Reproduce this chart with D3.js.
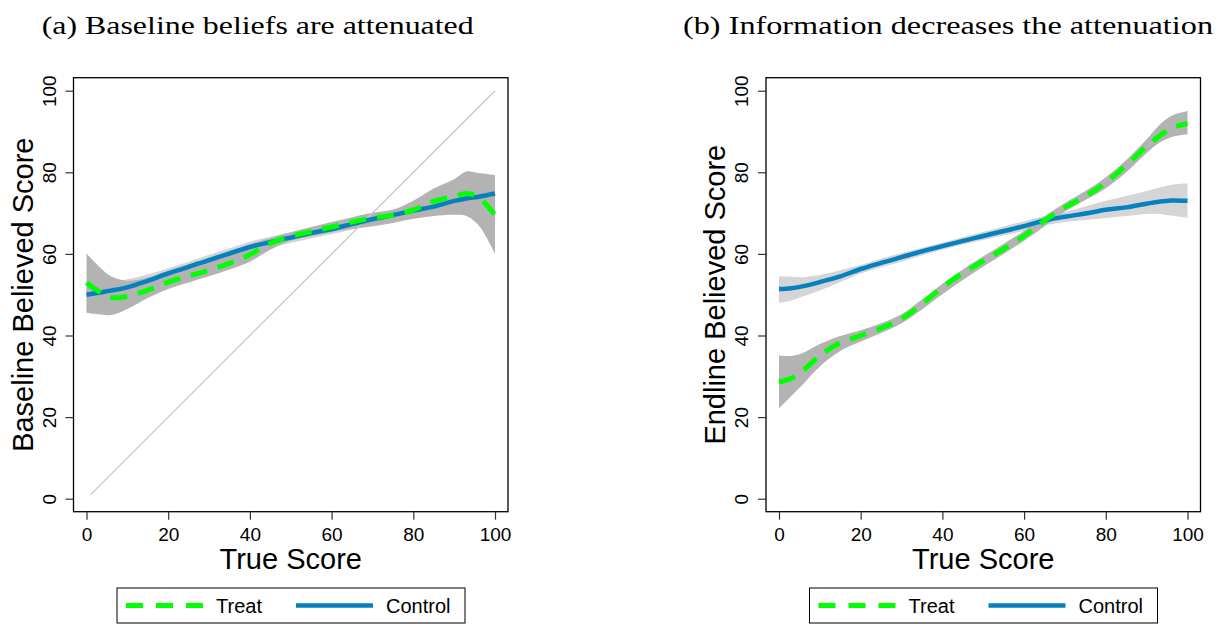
<!DOCTYPE html>
<html lang="en">
<head>
<meta charset="utf-8">
<script src="https://d3js.org/d3.v7.min.js"></script>
<style>
  body { margin: 0; background: #fff; }
  svg { display: block; }
</style>
</head>
<body>
<div id="chart"></div>
<script>
// shared x grid (true score) for every series
var trueScore = [0, 3, 6, 10, 15, 20, 25, 30, 35, 40, 45, 50, 55, 60, 65, 70, 75, 80, 85, 90, 93, 96, 100];
var ticks = [0, 20, 40, 60, 80, 100];

// (a) baseline beliefs
var baseTreat   = [52.9, 50.8, 49.3, 49.6, 51.1, 53.1, 54.6, 56.0, 57.7, 59.8, 62.6, 64.3, 65.5, 66.6, 67.8, 68.8, 69.5, 70.8, 72.9, 74.1, 74.8, 73.9, 69.5];
var baseTreatHi = [60.1, 57.0, 54.5, 53.4, 54.2, 55.9, 57.4, 59.0, 60.6, 62.3, 63.9, 65.3, 66.6, 67.8, 69.0, 70.1, 70.8, 73.0, 76.0, 78.3, 80.2, 79.8, 79.3];
var baseTreatLo = [45.5, 45.2, 45.0, 46.5, 49.2, 51.4, 53.0, 54.5, 56.2, 58.1, 61.0, 63.2, 64.3, 65.3, 66.1, 66.8, 67.6, 68.6, 69.3, 69.6, 69.3, 67.0, 60.0];
var baseCtrl    = [50.0, 50.5, 51.0, 51.8, 53.4, 55.2, 56.8, 58.5, 60.1, 61.7, 62.9, 64.0, 65.1, 66.1, 67.3, 68.5, 69.5, 70.6, 71.6, 73.0, 73.6, 74.0, 74.8];
var baseCtrlHi  = [53.5, 53.4, 53.4, 53.8, 55.0, 56.5, 58.1, 59.8, 61.4, 63.0, 64.2, 65.3, 66.4, 67.4, 68.6, 69.8, 70.8, 71.9, 73.2, 75.0, 76.0, 76.9, 78.2];
var baseCtrlLo  = [46.5, 47.4, 48.4, 49.8, 51.8, 53.9, 55.5, 57.2, 58.8, 60.4, 61.6, 62.7, 63.8, 64.8, 66.0, 67.2, 68.2, 69.3, 70.0, 71.0, 71.0, 70.9, 71.2];

// (b) endline beliefs
var endTreat    = [28.6, 29.5, 31.5, 35.1, 38.2, 40.0, 41.8, 44.1, 47.7, 51.8, 55.3, 58.3, 61.2, 64.4, 68.2, 71.4, 74.1, 77.5, 81.7, 86.4, 88.8, 90.8, 92.0];
var endTreatHi  = [35.1, 35.0, 35.8, 37.9, 39.9, 41.3, 43.0, 45.2, 48.8, 52.7, 56.2, 59.4, 62.5, 65.7, 69.2, 72.5, 75.4, 78.8, 83.0, 88.1, 91.5, 93.8, 95.0];
var endTreatLo  = [22.2, 25.2, 28.2, 32.4, 36.2, 38.5, 40.6, 43.0, 46.4, 50.1, 53.6, 56.9, 60.0, 63.2, 66.8, 70.4, 73.2, 76.1, 80.0, 84.7, 87.2, 88.6, 89.3];
var endCtrl     = [51.4, 51.6, 52.1, 53.1, 54.5, 56.3, 57.8, 59.2, 60.6, 61.9, 63.2, 64.4, 65.6, 66.8, 68.2, 69.1, 69.9, 70.8, 71.4, 72.3, 72.8, 73.1, 73.0];
var endCtrlHi   = [54.5, 54.4, 54.3, 54.8, 56.0, 57.3, 58.8, 60.2, 61.5, 62.8, 64.1, 65.4, 66.7, 68.0, 69.3, 70.3, 71.6, 73.0, 74.2, 75.4, 76.2, 76.9, 77.3];
var endCtrlLo   = [48.0, 48.6, 49.6, 51.0, 53.1, 55.2, 56.7, 58.1, 59.6, 61.0, 62.3, 63.4, 64.5, 65.7, 67.0, 67.8, 68.3, 68.8, 69.3, 69.8, 69.8, 69.4, 68.8];

// 45 degree reference line (panel a only)
var diagonal = [1, 100];

var width = 1225;
var height = 627;

var green = "#00ff00";
var blue = "#0581bd";
var darkBand = "#b3b3b3";
var lightBand = "#d5d5d5";

var svg = d3.select("#chart")
            .append("svg")
            .attr("width", width)
            .attr("height", height);

function rows(hi, lo, mid) {
  return trueScore.map(function(x, i) {
    return {x: x, hi: hi[i], lo: lo[i], y: mid[i]};
  });
}

var panels = [
  {
    title: "(a) Baseline beliefs are attenuated",
    titleX: 41.7, titleLen: 432,
    yTitle: "Baseline Believed Score",
    frameLeft: 73.5,
    treat: rows(baseTreatHi, baseTreatLo, baseTreat),
    ctrl: rows(baseCtrlHi, baseCtrlLo, baseCtrl),
    diag: true
  },
  {
    title: "(b) Information decreases the attenuation",
    titleX: 683, titleLen: 530,
    yTitle: "Endline Believed Score",
    frameLeft: 766,
    treat: rows(endTreatHi, endTreatLo, endTreat),
    ctrl: rows(endCtrlHi, endCtrlLo, endCtrl),
    diag: false
  }
];

// frame geometry
var frameTop = 77.7;
var frameBottom = 511.7;
var frameW = 434.5;
var inset = 13;

panels.forEach(function(p) {
  var g = svg.append("g");

  var xScale = d3.scaleLinear()
                 .domain([0, 100])
                 .range([p.frameLeft + inset, p.frameLeft + frameW - inset]);
  var yScale = d3.scaleLinear()
                 .domain([0, 100])
                 .range([frameBottom - inset, frameTop + inset]);

  var area = d3.area()
               .x(function(d) { return xScale(d.x); })
               .y0(function(d) { return yScale(d.lo); })
               .y1(function(d) { return yScale(d.hi); })
               .curve(d3.curveCatmullRom.alpha(0.5));

  var line = d3.line()
               .x(function(d) { return xScale(d.x); })
               .y(function(d) { return yScale(d.y); })
               .curve(d3.curveCatmullRom.alpha(0.5));

  // title
  g.append("text")
    .attr("x", p.titleX)
    .attr("y", 34)
    .attr("textLength", p.titleLen)
    .attr("lengthAdjust", "spacingAndGlyphs")
    .style("font-family", "'Liberation Serif', 'DejaVu Serif', serif")
    .style("font-size", "26px")
    .text(p.title);

  // confidence bands
  g.append("path")
    .datum(p.ctrl)
    .attr("d", area)
    .attr("fill", lightBand);

  g.append("path")
    .datum(p.treat)
    .attr("d", area)
    .attr("fill", darkBand);

  if (p.diag) {
    g.append("line")
      .attr("x1", xScale(diagonal[0]))
      .attr("y1", yScale(diagonal[0]))
      .attr("x2", xScale(diagonal[1]))
      .attr("y2", yScale(diagonal[1]))
      .attr("stroke", "#c8c8c8")
      .attr("stroke-width", 1.3);
  }

  // fitted lines
  g.append("path")
    .datum(p.ctrl)
    .attr("d", line)
    .attr("fill", "none")
    .attr("stroke", blue)
    .attr("stroke-width", 4.5);

  g.append("path")
    .datum(p.treat)
    .attr("d", line)
    .attr("fill", "none")
    .attr("stroke", green)
    .attr("stroke-width", 5)
    .attr("stroke-dasharray", "17,11");

  // frame
  g.append("rect")
    .attr("x", p.frameLeft)
    .attr("y", frameTop)
    .attr("width", frameW)
    .attr("height", frameBottom - frameTop)
    .attr("fill", "none")
    .attr("stroke", "#000")
    .attr("stroke-width", 1.3);

  // axes
  var xAxis = g.append("g")
    .attr("transform", "translate(0," + frameBottom + ")")
    .call(d3.axisBottom(xScale).tickValues(ticks).tickSize(8).tickFormat(d3.format("d")));
  xAxis.select(".domain").remove();
  xAxis.selectAll("line").attr("stroke", "#333").attr("stroke-width", 1.2);
  xAxis.selectAll("text")
    .attr("y", 22.5)
    .attr("dy", "0.35em")
    .style("font-family", "'Liberation Sans', Arial, sans-serif")
    .style("font-size", "19px")
    .attr("fill", "#000");

  var yAxis = g.append("g")
    .attr("transform", "translate(" + p.frameLeft + ",0)")
    .call(d3.axisLeft(yScale).tickValues(ticks).tickSize(8).tickFormat(d3.format("d")));
  yAxis.select(".domain").remove();
  yAxis.selectAll("line").attr("stroke", "#333").attr("stroke-width", 1.2);
  yAxis.selectAll("text")
    .attr("x", 0)
    .attr("dy", null)
    .attr("text-anchor", "middle")
    .attr("dominant-baseline", "central")
    .attr("transform", "translate(-24.5,0) rotate(-90)")
    .style("font-family", "'Liberation Sans', Arial, sans-serif")
    .style("font-size", "19px")
    .attr("fill", "#000");

  // axis titles
  g.append("text")
    .attr("x", xScale(50))
    .attr("y", 559)
    .attr("text-anchor", "middle")
    .attr("dominant-baseline", "central")
    .style("font-family", "'Liberation Sans', Arial, sans-serif")
    .style("font-size", "29px")
    .text("True Score");

  g.append("text")
    .attr("transform", "translate(" + (p.frameLeft - 51) + "," + ((frameTop + frameBottom) / 2) + ") rotate(-90)")
    .attr("text-anchor", "middle")
    .attr("dominant-baseline", "central")
    .style("font-family", "'Liberation Sans', Arial, sans-serif")
    .style("font-size", "29px")
    .text(p.yTitle);

  // legend
  var lx = p.frameLeft + 43.5;
  var ly = 588;
  var lg = g.append("g").attr("transform", "translate(" + lx + "," + ly + ")");
  lg.append("rect")
    .attr("width", 348)
    .attr("height", 35)
    .attr("fill", "#fff")
    .attr("stroke", "#000")
    .attr("stroke-width", 1);
  lg.append("line")
    .attr("x1", 9).attr("x2", 86)
    .attr("y1", 17.5).attr("y2", 17.5)
    .attr("stroke", green)
    .attr("stroke-width", 5)
    .attr("stroke-dasharray", "17,13");
  lg.append("text")
    .attr("x", 99).attr("y", 17.5)
    .attr("dominant-baseline", "central")
    .style("font-family", "'Liberation Sans', Arial, sans-serif")
    .style("font-size", "20px")
    .text("Treat");
  lg.append("line")
    .attr("x1", 179).attr("x2", 256)
    .attr("y1", 17.5).attr("y2", 17.5)
    .attr("stroke", blue)
    .attr("stroke-width", 4.5);
  lg.append("text")
    .attr("x", 269).attr("y", 17.5)
    .attr("dominant-baseline", "central")
    .style("font-family", "'Liberation Sans', Arial, sans-serif")
    .style("font-size", "20px")
    .text("Control");
});
</script>
</body>
</html>
